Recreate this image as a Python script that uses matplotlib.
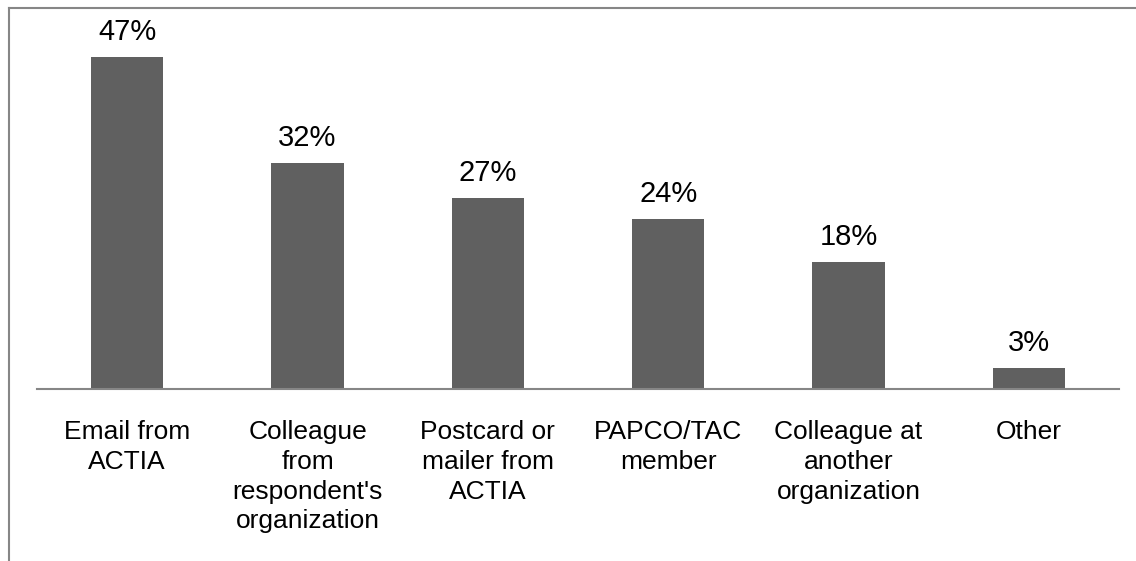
import matplotlib
matplotlib.use("Agg")
import matplotlib.pyplot as plt
from matplotlib.lines import Line2D

categories = ["Email from\nACTIA", "Colleague\nfrom\nrespondent's\norganization",
              "Postcard or\nmailer from\nACTIA", "PAPCO/TAC\nmember",
              "Colleague at\nanother\norganization", "Other"]
values = [47, 32, 27, 24, 18, 3]

plt.rcParams['font.family'] = ['Liberation Sans', 'DejaVu Sans']

W, H = 1136, 561
fig = plt.figure(figsize=(W/100, H/100), dpi=100)
ax = fig.add_axes([37/W, 1-389/H, (1119-37)/W, (389-35.5)/H])

x = list(range(len(values)))
bars = ax.bar(x, values, width=0.4, color="#606060", zorder=2)
ax.set_xlim(-0.5, len(values)-0.5)
ax.set_ylim(0, 50)
for b, v in zip(bars, values):
    ax.annotate(f"{v}%", (b.get_x()+b.get_width()/2, v), xytext=(0, 8),
                textcoords="offset points", ha="center", va="bottom", fontsize=21, color="#000000")

ax.set_xticks(x)
ax.set_xticklabels(categories, fontsize=19, linespacing=1.3)
ax.tick_params(axis='x', length=0, pad=22.5)
ax.set_yticks([])
for s in ["top", "right", "left"]:
    ax.spines[s].set_visible(False)
ax.spines["bottom"].set_color("#868686")
ax.spines["bottom"].set_linewidth(1.5)

# outer chart frame (partially visible)
fig.add_artist(Line2D([8.5/W, 8.5/W], [0, 1-8/H], transform=fig.transFigure, color="#868686", lw=1.5))
fig.add_artist(Line2D([8.5/W, 1], [1-8/H, 1-8/H], transform=fig.transFigure, color="#868686", lw=1.5))

fig.savefig("out.png", dpi=100, facecolor="white")
